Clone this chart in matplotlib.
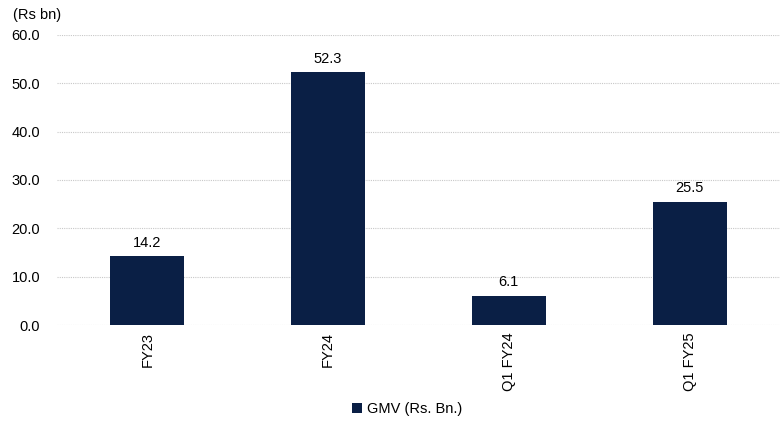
import matplotlib.pyplot as plt

categories = ['FY23', 'FY24', 'Q1 FY24', 'Q1 FY25']
gmv = [14.2, 52.3, 6.1, 25.5]

plt.rcParams['font.family'] = ['Liberation Sans', 'DejaVu Sans']

fig = plt.figure(figsize=(7.8, 4.26), dpi=100)
ax = fig.add_axes([0.073, 0.237, 0.927, 0.681])

bars = ax.bar(categories, gmv, width=0.41, color='#0a1f45', label='GMV (Rs. Bn.)', zorder=3)
for b, v in zip(bars, gmv):
    ax.text(b.get_x() + b.get_width() / 2, v + 1.3, f'{v:.1f}', ha='center', va='bottom', fontsize=10.5)

ax.set_ylim(0, 60)
ax.set_xlim(-0.5, 3.5)
ax.set_yticks(range(0, 61, 10))
ax.set_yticklabels([f'{t:.1f}' for t in range(0, 61, 10)], fontsize=10.5)
ax.tick_params(axis='x', labelrotation=90, labelsize=10.5, length=0, pad=5)
ax.tick_params(axis='y', length=0, pad=12)
ax.yaxis.grid(True, linestyle=(0, (1, 1)), color='#c8c8c8', linewidth=0.8, zorder=0)
for s in ax.spines.values():
    s.set_visible(False)

fig.text(0.017, 0.955, '(Rs bn)', fontsize=10.5)
ax.legend(loc='center', bbox_to_anchor=(0.484, -0.29), frameon=False, fontsize=10.5,
          handlelength=0.7, handleheight=0.7, handletextpad=0.3)

fig.savefig('out.png', dpi=100)
